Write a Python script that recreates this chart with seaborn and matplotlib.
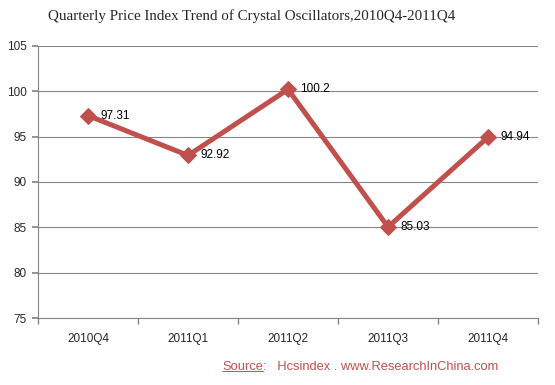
import numpy as np
import pandas as pd
import matplotlib.pyplot as plt
import seaborn as sns
from matplotlib.ticker import FixedLocator

quarters = ['2010Q4', '2011Q1', '2011Q2', '2011Q3', '2011Q4']
index_vals = [97.31, 92.92, 100.2, 85.03, 94.94]
val_labels = ['97.31', '92.92', '100.2', '85.03', '94.94']
yticks = [75, 80, 85, 90, 95, 100, 105]

sns.set_theme(style='white')
plt.rcParams['font.family'] = ['Liberation Sans', 'DejaVu Sans']

df = pd.DataFrame({'pos': range(len(quarters)), 'val': index_vals})

fig = plt.figure(figsize=(5.55, 3.85), dpi=100)
ax = fig.add_axes([0.0685, 0.174, 0.901, 0.707])

red = '#C0504D'
sns.lineplot(data=df, x='pos', y='val', ax=ax, color=red, linewidth=3.6,
             marker='D', markersize=8, markeredgecolor=red, markerfacecolor=red)

for i, v in enumerate(index_vals):
    ax.annotate(val_labels[i], (i, v), xytext=(9, 0), textcoords='offset points',
                va='center', ha='left', fontsize=8.5, color='black')

ax.set_xlim(-0.5, len(quarters) - 0.5)
ax.set_ylim(75, 105)
ax.set_yticks(yticks)
ax.set_yticklabels([str(t) for t in yticks], fontsize=8.5)
ax.set_xticks(range(len(quarters)))
ax.set_xticklabels(quarters, fontsize=8.5)
ax.xaxis.set_minor_locator(FixedLocator(np.arange(-0.5, len(quarters), 1.0)))
ax.tick_params(axis='x', which='major', length=0, pad=11)
ax.tick_params(axis='x', which='minor', length=4, color='#868686', direction='out', bottom=True)
ax.tick_params(axis='y', length=4, color='#868686', direction='out', left=True, pad=4)
ax.set_xlabel('')
ax.set_ylabel('')

ax.grid(axis='y', color='#868686', linewidth=0.8)
ax.set_axisbelow(True)
for s in ['top', 'right']:
    ax.spines[s].set_visible(False)
for s in ['left', 'bottom']:
    ax.spines[s].set_color('#868686')
    ax.spines[s].set_linewidth(0.8)

fig.text(0.453, 0.957, 'Quarterly Price Index Trend of Crystal Oscillators,2010Q4-2011Q4',
         ha='center', va='center', fontsize=10.8, family='Liberation Serif')

src = fig.text(0.40, 0.047, 'Source', ha='left', va='center', fontsize=9.3, color=red)
fig.canvas.draw()
bb = src.get_window_extent().transformed(fig.transFigure.inverted())
fig.add_artist(plt.Line2D([bb.x0, bb.x1], [bb.y0 + 0.004, bb.y0 + 0.004],
                          transform=fig.transFigure, color=red, linewidth=0.7))
fig.text(bb.x1, 0.047, ':   Hcsindex . www.ResearchInChina.com', ha='left', va='center',
         fontsize=9.3, color=red)

fig.savefig('out.png', dpi=100)
